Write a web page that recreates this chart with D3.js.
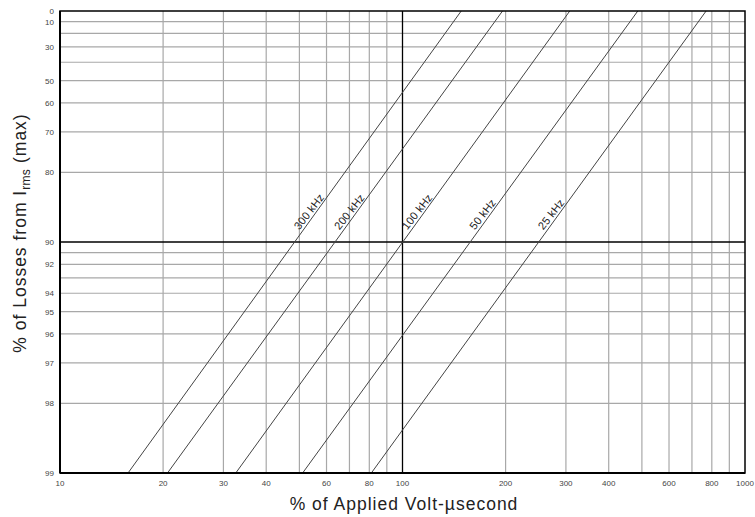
<!DOCTYPE html>
<html>
<head>
<meta charset="utf-8">
<script src="https://cdn.jsdelivr.net/npm/d3@7"></script>
<style>
  body { margin: 0; background: #fff; }
  text { font-family: "Liberation Sans", Arial, sans-serif; }
</style>
</head>
<body>
<div id="chart"></div>
<script>
// Frequencies and where each line meets the bottom (99 %) and top (0 %) of the plot
const freqLabels = ["300 kHz", "200 kHz", "100 kHz", "50 kHz", "25 kHz"];
const voltAtBottom = [15.8, 20.6, 32.6, 51.1, 81.1];
const voltAtTop = [148.4, 195.9, 307.9, 486.4, 770];
const lossBottom = 99;
const lossTop = 0;
const labelLoss = 89;

// Tick labels and grid values
const xTickLabels = [10, 20, 30, 40, 60, 80, 100, 200, 300, 400, 600, 800, 1000];
const xGrid = [20, 30, 40, 50, 60, 70, 80, 90, 200, 300, 400, 500, 600, 700, 800, 900];
const yTickLabels = [0, 10, 30, 50, 60, 70, 80, 90, 92, 94, 95, 96, 97, 98, 99];
const yGrid = [10, 20, 30, 40, 50, 60, 70, 80, 91, 92, 93, 94, 95, 96, 97, 98];

const W = 755, H = 517;
const margin = { top: 11, right: 10, bottom: 44, left: 60 };
const width = W - margin.left - margin.right;
const height = H - margin.top - margin.bottom;

const svg = d3.select("#chart").append("svg").attr("width", W).attr("height", H);
const g = svg.append("g").attr("transform", `translate(${margin.left},${margin.top})`);

// Log scale on x; y is log of (100 - loss)
const xScale = d3.scaleLog().domain([10, 1000]).range([0, width]);
const yLog = d3.scaleLog().domain([100, 1]).range([0, height]);
const yScale = (v) => yLog(100 - v);

// Grid lines
g.selectAll(".xgrid").data(xGrid).enter().append("line")
  .attr("x1", (d) => xScale(d)).attr("x2", (d) => xScale(d))
  .attr("y1", 0).attr("y2", height)
  .attr("stroke", "#a8a8a8").attr("stroke-width", 1.2);

g.selectAll(".ygrid").data(yGrid).enter().append("line")
  .attr("x1", 0).attr("x2", width)
  .attr("y1", (d) => yScale(d)).attr("y2", (d) => yScale(d))
  .attr("stroke", "#a8a8a8").attr("stroke-width", 1.2);

// Major reference lines at 100 % and 90 %
g.append("line")
  .attr("x1", xScale(100)).attr("x2", xScale(100))
  .attr("y1", 0).attr("y2", height)
  .attr("stroke", "#000").attr("stroke-width", 1.3);
g.append("line")
  .attr("x1", 0).attr("x2", width)
  .attr("y1", yScale(90)).attr("y2", yScale(90))
  .attr("stroke", "#000").attr("stroke-width", 1.3);

// Frequency lines
const lines = freqLabels.map((f, i) => ({
  label: f,
  pts: [[voltAtBottom[i], lossBottom], [voltAtTop[i], lossTop]],
}));

const lineGen = d3.line().x((d) => xScale(d[0])).y((d) => yScale(d[1]));

g.selectAll(".freq").data(lines).enter().append("path")
  .attr("d", (d) => lineGen(d.pts))
  .attr("fill", "none")
  .attr("stroke", "#444")
  .attr("stroke-width", 1);

// Labels along each line
g.selectAll(".flabel").data(lines).enter().append("text")
  .attr("transform", (d) => {
    const [p0, p1] = d.pts;
    const x0 = xScale(p0[0]), y0 = yScale(p0[1]);
    const x1 = xScale(p1[0]), y1 = yScale(p1[1]);
    const t = (yScale(labelLoss) - y0) / (y1 - y0);
    const x = x0 + t * (x1 - x0), y = y0 + t * (y1 - y0);
    const ang = Math.atan2(y1 - y0, x1 - x0) * 180 / Math.PI + 2;
    return `translate(${x},${y}) rotate(${ang})`;
  })
  .attr("dy", -3)
  .attr("font-size", 11)
  .attr("letter-spacing", 0.2)
  .attr("fill", "#222")
  .text((d) => d.label);

// Frame
g.append("rect").attr("width", width).attr("height", height)
  .attr("fill", "none").attr("stroke", "#000").attr("stroke-width", 1.5);
g.append("line").attr("x1", 0).attr("x2", 0).attr("y1", 0).attr("y2", height)
  .attr("stroke", "#000").attr("stroke-width", 2);
g.append("line").attr("x1", 0).attr("x2", width).attr("y1", height).attr("y2", height)
  .attr("stroke", "#000").attr("stroke-width", 2);

// Tick labels
g.selectAll(".xlab").data(xTickLabels).enter().append("text")
  .attr("x", (d) => xScale(d)).attr("y", height + 13)
  .attr("text-anchor", "middle").attr("font-size", 8).attr("fill", "#444")
  .text((d) => d);

g.selectAll(".ylab").data(yTickLabels).enter().append("text")
  .attr("x", -6).attr("y", (d) => yScale(d) + 3)
  .attr("text-anchor", "end").attr("font-size", 8).attr("fill", "#444")
  .text((d) => d);

// Axis titles
svg.append("text")
  .attr("x", 404).attr("y", 509.5)
  .attr("text-anchor", "middle").attr("font-size", 17.5)
  .attr("letter-spacing", 1).attr("fill", "#222")
  .text("% of Applied Volt-µsecond");

const yt = svg.append("text")
  .attr("transform", "translate(26,233) rotate(-90)")
  .attr("text-anchor", "middle").attr("font-size", 17.5)
  .attr("letter-spacing", 1).attr("fill", "#222");
yt.append("tspan").text("% of Losses from I");
yt.append("tspan").attr("font-size", 12).attr("dy", 4).attr("letter-spacing", 0.3).text("rms");
yt.append("tspan").attr("dy", -4).text(" (max)");
</script>
</body>
</html>
